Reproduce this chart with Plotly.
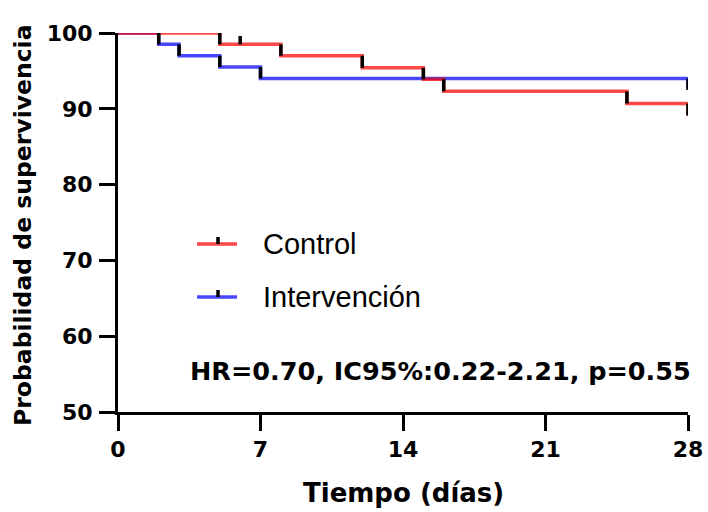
import plotly.graph_objects as go

# ---- data ----
control_t = [0, 5, 8, 12, 15, 16, 25, 28]
control_s = [100, 98.5, 97.0, 95.4, 93.9, 92.3, 90.7, 89.1]
control_censor_t = [6]
control_censor_s = [98.5]

interv_t = [0, 2, 3, 5, 7, 28]
interv_s = [100, 98.5, 97.0, 95.5, 94.0, 92.5]

x_ticks = [0, 7, 14, 21, 28]
y_ticks = [50, 60, 70, 80, 90, 100]

series_names = ["Control", "Intervención"]
hr_text = "HR=0.70, IC95%:0.22-2.21, p=0.55"
x_title = "Tiempo (días)"
y_title = "Probabilidad de supervivencia"

RED = "rgba(255,0,0,0.72)"
BLUE = "rgba(0,0,255,0.72)"
BOLD = "DejaVu Sans"
REG = "Arial, Liberation Sans, sans-serif"

def drops(t, s):
    xs, ys = [], []
    for i in range(1, len(t)):
        xs += [t[i], t[i], None]
        ys += [s[i - 1], s[i], None]
    return xs, ys

fig = go.Figure()
for t, s, c in [(interv_t, interv_s, BLUE), (control_t, control_s, RED)]:
    fig.add_trace(go.Scatter(x=t, y=s, mode="lines", line=dict(color=c, width=3.5, shape="hv"),
                             cliponaxis=False, showlegend=False, hoverinfo="skip"))
for t, s in [(interv_t, interv_s), (control_t, control_s)]:
    xs, ys = drops(t, s)
    fig.add_trace(go.Scatter(x=xs, y=ys, mode="lines", line=dict(color="black", width=3.5),
                             cliponaxis=False, showlegend=False, hoverinfo="skip"))
# censor ticks
cx, cy = [], []
for t, s in zip(control_censor_t, control_censor_s):
    cx += [t, t, None]
    cy += [s, s + 1.1, None]
fig.add_trace(go.Scatter(x=cx, y=cy, mode="lines", line=dict(color="black", width=3.5),
                         cliponaxis=False, showlegend=False, hoverinfo="skip"))

# manual legend
W, H = 708, 512
L, R, T, B = 118, 20, 33, 100
pw, ph = W - L - R, H - T - B
def px(x):
    return (x - L) / pw
def py(y):
    return (H - B - y) / ph

for name, col, yy in [(series_names[0], RED, 244), (series_names[1], BLUE, 297)]:
    fig.add_shape(type="line", xref="paper", yref="paper", x0=px(197), x1=px(237), y0=py(yy), y1=py(yy),
                  line=dict(color=col, width=3.5))
    fig.add_shape(type="line", xref="paper", yref="paper", x0=px(218), x1=px(218), y0=py(yy), y1=py(yy - 7),
                  line=dict(color="black", width=3.5))
    fig.add_annotation(xref="paper", yref="paper", x=px(261), y=py(yy), text=name, showarrow=False,
                       xanchor="left", yanchor="middle", font=dict(family=REG, size=29, color="black"))

fig.add_annotation(xref="paper", yref="paper", x=px(693), y=py(371), text="<b>%s</b>" % hr_text,
                   showarrow=False, xanchor="right", yanchor="middle",
                   font=dict(family=BOLD, size=25.5, color="black"))
fig.add_annotation(xref="paper", yref="paper", x=0.5, y=py(493), text="<b>%s</b>" % x_title,
                   showarrow=False, xanchor="center", yanchor="middle",
                   font=dict(family=BOLD, size=26, color="black"))
fig.add_annotation(xref="paper", yref="paper", x=px(23), y=py(225), text="<b>%s</b>" % y_title,
                   showarrow=False, xanchor="center", yanchor="middle", textangle=-90,
                   font=dict(family=BOLD, size=23.5, color="black"))

axis_common = dict(showline=True, linecolor="black", linewidth=3, ticks="outside", ticklen=16,
                   tickwidth=3, tickcolor="black", showgrid=False, zeroline=False, automargin=False,
                   tickfont=dict(family=BOLD, size=22, color="black"))
fig.update_xaxes(range=[0, 28], tickvals=x_ticks, ticktext=["<b>%d</b>" % v for v in x_ticks], **axis_common)
fig.update_yaxes(range=[50, 100], tickvals=y_ticks, ticktext=["<b>%d</b>" % v for v in y_ticks],
                 ticklabelstandoff=2, **axis_common)

fig.update_layout(width=W, height=H, margin=dict(l=L, r=R, t=T, b=B), plot_bgcolor="white",
                  paper_bgcolor="white", showlegend=False)
fig.write_html("out.html")
